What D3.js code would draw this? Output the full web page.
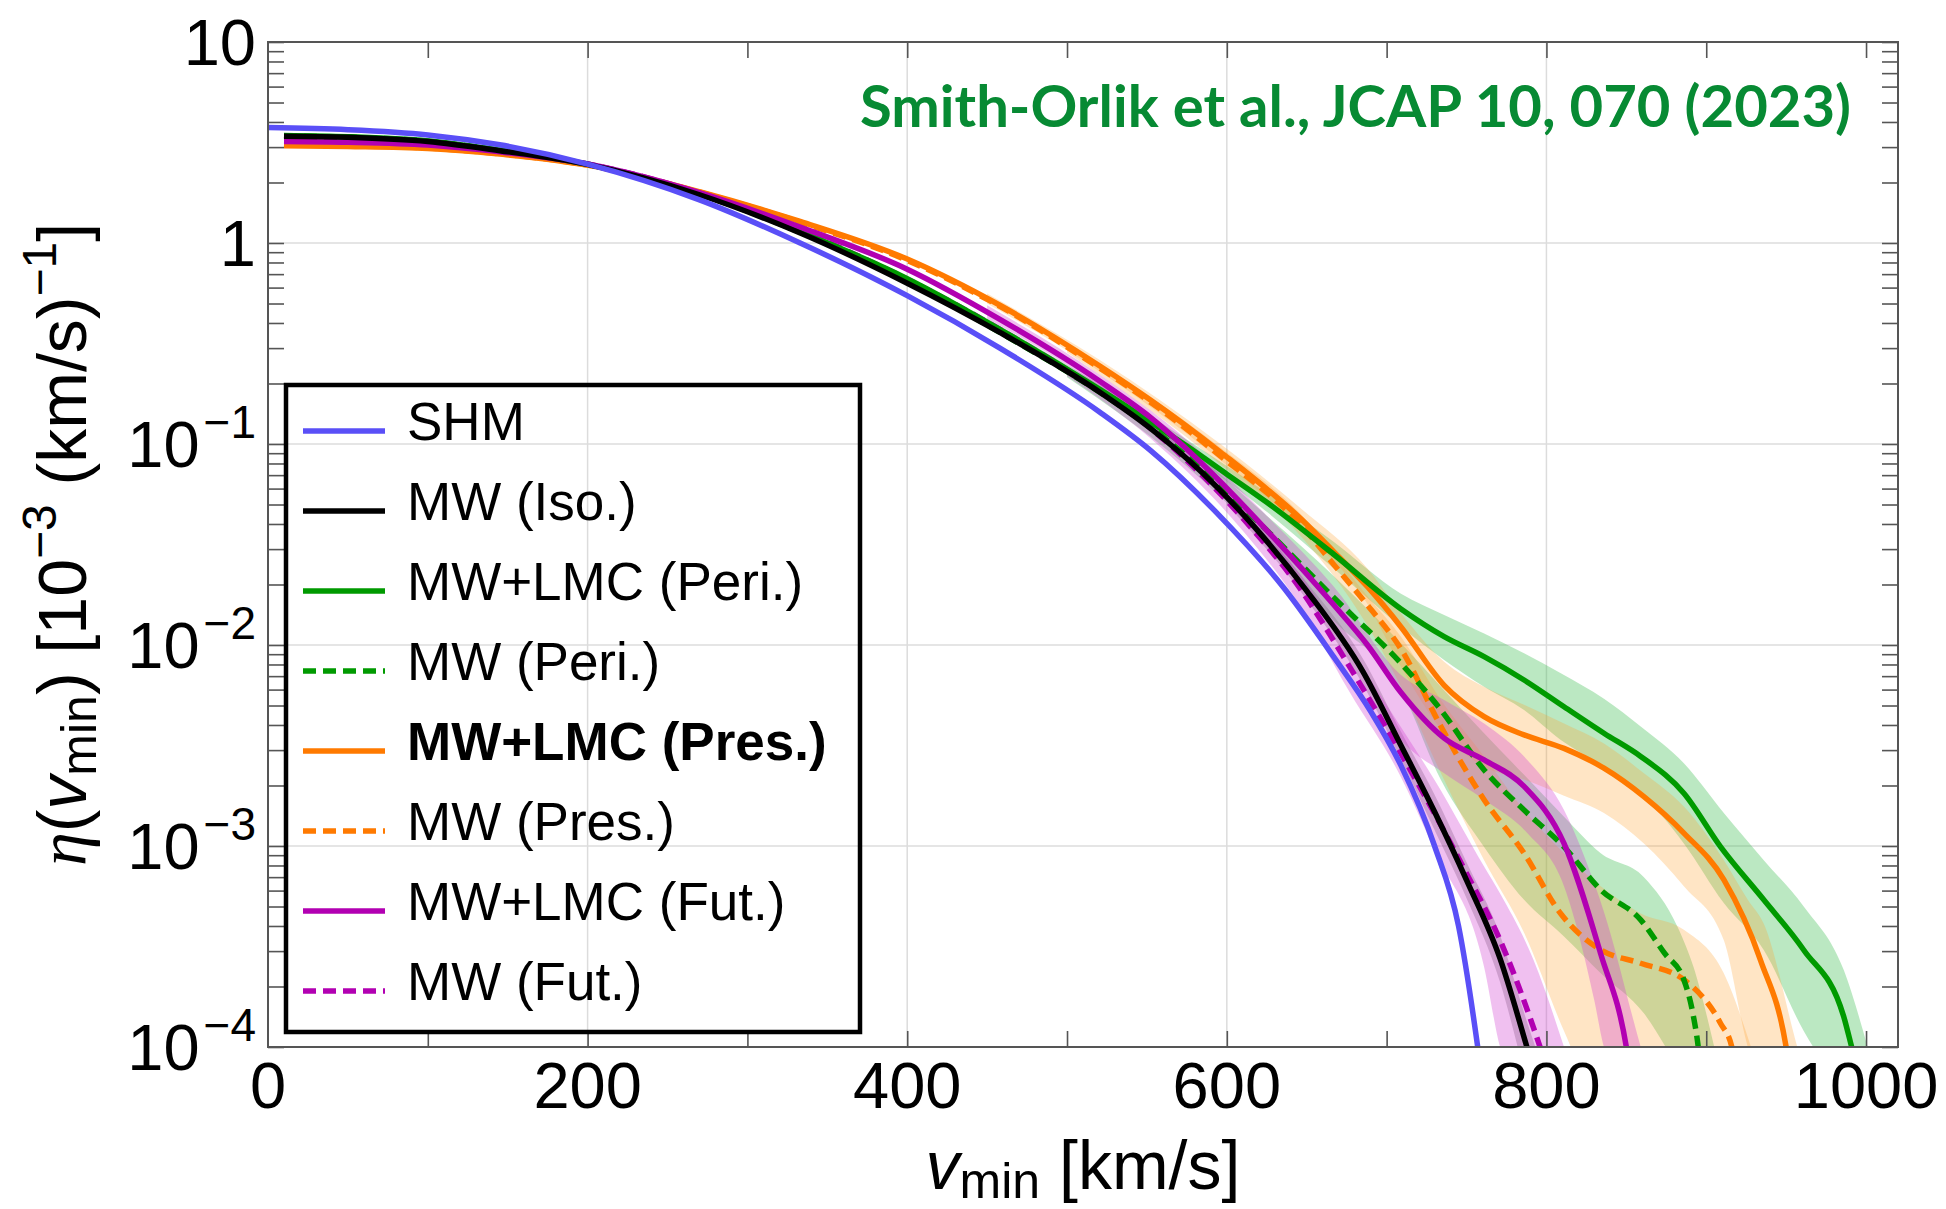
<!DOCTYPE html>
<html>
<head>
<meta charset="utf-8">
<script src="https://cdn.jsdelivr.net/npm/d3@7"></script>
<style>
    body { margin: 0; background: #fff; }
    svg { display: block; }
    text { font-family: "Liberation Sans", Arial, sans-serif; fill: #000; }
</style>
</head>
<body>
<div id="chart"></div>
<script>
// ---- data: v_min [km/s] and eta [10^-3 (km/s)^-1] ----

const shmV   = [0, 50, 100, 145, 200, 270, 333, 400, 458, 521, 552, 594, 636, 667, 690, 709, 730, 745, 757, 762];
const shmEta = [3.75, 3.66, 3.45, 3.08, 2.47, 1.64, 1.0, 0.547, 0.3, 0.1432, 0.0933, 0.0452, 0.0191, 0.0087, 0.00468, 0.00251, 0.001, 0.0004, 0.0001, 0.00005];

const isoV   = [10, 50, 100, 145, 200, 270, 333, 400, 458, 521, 552, 585, 617, 650, 685, 709, 730, 750, 771, 787, 795];
const isoEta = [3.4, 3.36, 3.2, 2.88, 2.46, 1.738, 1.122, 0.631, 0.359, 0.18, 0.12, 0.0716, 0.0389, 0.0186, 0.00741, 0.00316, 0.00148, 0.000676, 0.000275, 0.000105, 0.000063];
const isoBandV  = [600, 650, 685, 709, 730, 750, 771, 787, 795];
const isoBandLo = [0.05, 0.0168, 0.0064, 0.0027, 0.0012, 0.00055, 0.00021, 0.00007, 0.00004];
const isoBandHi = [0.057, 0.0205, 0.0086, 0.0037, 0.0018, 0.00083, 0.00036, 0.00014, 0.00009];

const periV   = [10, 50, 100, 145, 200, 270, 333, 400, 458, 521, 552, 575, 600, 625, 667, 709, 736, 761, 786, 811, 836, 859, 886, 909, 936, 961, 986, 991, 996];
const periEta = [3.43, 3.38, 3.22, 2.9, 2.46, 1.758, 1.14, 0.665, 0.372, 0.186, 0.129, 0.0977, 0.0708, 0.0513, 0.0282, 0.0151, 0.011, 0.00875, 0.0067, 0.00493, 0.00364, 0.00279, 0.00183, 0.00099, 0.00054, 0.000304, 0.000142, 0.0001, 0.00007];
const periBandV  = [450, 521, 575, 625, 667, 709, 736, 761, 786, 809, 836, 859, 886, 911, 936, 961, 986, 1001];
const periBandLo = [0.385, 0.176, 0.091, 0.046, 0.024, 0.0123, 0.00843, 0.0062, 0.00475, 0.00337, 0.00248, 0.00183, 0.00103, 0.00052, 0.000304, 0.00012, 0.00006, 0.00004];
const periBandHi = [0.42, 0.197, 0.105, 0.057, 0.0325, 0.018, 0.0141, 0.0114, 0.0091, 0.00723, 0.0054, 0.00393, 0.00258, 0.00146, 0.00085, 0.0005, 0.000242, 0.0001];

const mwPeriV   = [10, 50, 100, 145, 200, 270, 333, 400, 458, 521, 552, 583, 625, 667, 709, 734, 761, 786, 811, 834, 859, 874, 886, 892, 895, 897];
const mwPeriEta = [3.4, 3.36, 3.21, 2.89, 2.47, 1.75, 1.13, 0.646, 0.359, 0.18, 0.1216, 0.0767, 0.0372, 0.0172, 0.0081, 0.00475, 0.00239, 0.00151, 0.00099, 0.000605, 0.000429, 0.000292, 0.000216, 0.000142, 0.0001, 0.00007];
const mwPeriBandV  = [500, 583, 625, 667, 709, 734, 761, 786, 811, 834, 861, 882, 892, 905];
const mwPeriBandLo = [0.215, 0.068, 0.032, 0.0132, 0.006, 0.00213, 0.00099, 0.00054, 0.000355, 0.000233, 0.000147, 0.00008, 0.00006, 0.00004];
const mwPeriBandHi = [0.238, 0.086, 0.044, 0.022, 0.0102, 0.0062, 0.00364, 0.00226, 0.0014, 0.00092, 0.0007, 0.000397, 0.000251, 0.0001];

const presV   = [10, 50, 100, 145, 200, 270, 333, 400, 458, 521, 552, 596, 646, 670, 688, 709, 736, 761, 786, 811, 836, 861, 886, 911, 934, 950, 953];
const presEta = [3.05, 3.02, 2.95, 2.77, 2.44, 1.8, 1.28, 0.832, 0.49, 0.243, 0.166, 0.0912, 0.0427, 0.0275, 0.0195, 0.0123, 0.0063, 0.0044, 0.00357, 0.00306, 0.00244, 0.00176, 0.00116, 0.00068, 0.00027, 0.0001, 0.00007];
const presBandV  = [450, 521, 596, 646, 688, 709, 736, 761, 786, 811, 836, 861, 886, 911, 926, 936, 957, 965];
const presBandLo = [0.5, 0.228, 0.083, 0.038, 0.016, 0.0078, 0.00364, 0.00248, 0.00214, 0.00178, 0.00146, 0.00103, 0.00063, 0.00034, 0.0001, 0.00006, 0.00004, 0.00004];
const presBandHi = [0.56, 0.26, 0.1, 0.048, 0.024, 0.0144, 0.00826, 0.0062, 0.00504, 0.00407, 0.00324, 0.0023, 0.00157, 0.00085, 0.00054, 0.00041, 0.0001, 0.00006];

const mwPresV   = [10, 50, 100, 145, 200, 270, 333, 400, 458, 521, 552, 596, 646, 667, 688, 709, 734, 761, 786, 809, 834, 859, 886, 909, 916, 919];
const mwPresEta = [3.1, 3.06, 2.97, 2.78, 2.44, 1.79, 1.27, 0.82, 0.484, 0.237, 0.162, 0.0871, 0.0398, 0.0251, 0.0158, 0.00955, 0.00393, 0.0017, 0.00092, 0.00046, 0.000304, 0.000261, 0.000216, 0.000131, 0.0001, 0.00007];
const mwPresBandV  = [500, 596, 646, 688, 709, 734, 761, 786, 811, 834, 859, 886, 911, 928];
const mwPresBandLo = [0.285, 0.079, 0.035, 0.0125, 0.0062, 0.0023, 0.00085, 0.00037, 0.00012, 0.00005, 0.00004, 0.00004, 0.00004, 0.00004];
const mwPresBandHi = [0.315, 0.096, 0.045, 0.0175, 0.011, 0.00533, 0.00279, 0.00151, 0.00092, 0.00063, 0.000462, 0.000383, 0.000233, 0.0001];

const futV   = [10, 50, 100, 145, 200, 270, 333, 400, 458, 521, 552, 590, 625, 667, 688, 709, 736, 761, 786, 811, 834, 850, 853];
const futEta = [3.2, 3.17, 3.07, 2.84, 2.47, 1.78, 1.2, 0.741, 0.417, 0.204, 0.136, 0.0724, 0.0372, 0.0158, 0.01, 0.0058, 0.00344, 0.00268, 0.00198, 0.00103, 0.00029, 0.0001, 0.00007];
const futBandV  = [450, 521, 562, 625, 667, 709, 736, 761, 788, 811, 830, 836, 859, 870];
const futBandLo = [0.42, 0.19, 0.104, 0.031, 0.0128, 0.00337, 0.0023, 0.0017, 0.00116, 0.00063, 0.00017, 0.0001, 0.00005, 0.00005];
const futBandHi = [0.49, 0.22, 0.128, 0.044, 0.0195, 0.0071, 0.00533, 0.00407, 0.00268, 0.00151, 0.00065, 0.00047, 0.0001, 0.00005];

const mwFutV   = [10, 50, 100, 145, 200, 270, 333, 400, 458, 521, 552, 610, 644, 677, 709, 730, 750, 771, 796, 800];
const mwFutEta = [3.22, 3.19, 3.08, 2.85, 2.47, 1.77, 1.15, 0.661, 0.372, 0.182, 0.12, 0.0427, 0.02, 0.00776, 0.00288, 0.00145, 0.00073, 0.00034, 0.0001, 0.00008];
const mwFutBandV  = [500, 552, 610, 644, 677, 709, 730, 761, 771, 792, 811];
const mwFutBandLo = [0.218, 0.107, 0.037, 0.0165, 0.0058, 0.0022, 0.00095, 0.00025, 0.0001, 0.00005, 0.00005];
const mwFutBandHi = [0.244, 0.133, 0.049, 0.0235, 0.0096, 0.0039, 0.00213, 0.00079, 0.00058, 0.00027, 0.0001];

// axis ticks and labels
const xTickValues = [100, 200, 300, 400, 500, 600, 700, 800, 900, 1000];
const xTickLabels = [0, 200, 400, 600, 800, 1000];
const xGridValues = [200, 400, 600, 800];
const yDecades    = [1e-4, 1e-3, 1e-2, 1e-1, 1, 10];
const yLabelBase  = ['10', '10', '10', '10', '1', '10'];
const yLabelExp   = ['\u22124', '\u22123', '\u22122', '\u22121', '', ''];
const yGridValues = [1e-3, 1e-2, 1e-1, 1];

const CITATION = 'Smith-Orlik et al., JCAP 10, 070 (2023)';

// ---- layout ----
const WIDTH = 1946;
const HEIGHT = 1209;
const PLOT = {left: 268, right: 1898, top: 42, bottom: 1047};

const FRAME_COLOR = '#555';
const GRID_COLOR = '#dcdcdc';
const TICK_LEN = 16;
const LINE_W = 5.5;

const BLUE = '#5a4ff7';
const GREEN = '#009a00';
const ORANGE = '#ff7a00';
const MAGENTA = '#b200b2';

const zip = (v, a, b) => v.map((d, i) => ({v: d, lo: a[i], hi: b ? b[i] : a[i]}));

const series = [
    {name: 'SHM',            pts: zip(shmV, shmEta),       color: BLUE,    dash: null},
    {name: 'MW (Iso.)',      pts: zip(isoV, isoEta),       color: '#000',  dash: null,
        band: zip(isoBandV, isoBandLo, isoBandHi), bandFill: '#000', bandOpacity: 0.2},
    {name: 'MW+LMC (Peri.)', pts: zip(periV, periEta),     color: GREEN,   dash: null,
        band: zip(periBandV, periBandLo, periBandHi), bandFill: '#3cbe50', bandOpacity: 0.35},
    {name: 'MW (Peri.)',     pts: zip(mwPeriV, mwPeriEta), color: GREEN,   dash: '13,7',
        band: zip(mwPeriBandV, mwPeriBandLo, mwPeriBandHi), bandFill: '#3cbe50', bandOpacity: 0.35},
    {name: 'MW+LMC (Pres.)', pts: zip(presV, presEta),     color: ORANGE,  dash: null, bold: true,
        band: zip(presBandV, presBandLo, presBandHi), bandFill: '#ffa030', bandOpacity: 0.28},
    {name: 'MW (Pres.)',     pts: zip(mwPresV, mwPresEta), color: ORANGE,  dash: '13,7',
        band: zip(mwPresBandV, mwPresBandLo, mwPresBandHi), bandFill: '#ffa030', bandOpacity: 0.28},
    {name: 'MW+LMC (Fut.)',  pts: zip(futV, futEta),       color: MAGENTA, dash: null,
        band: zip(futBandV, futBandLo, futBandHi), bandFill: '#d040d0', bandOpacity: 0.33},
    {name: 'MW (Fut.)',      pts: zip(mwFutV, mwFutEta),   color: MAGENTA, dash: '13,7',
        band: zip(mwFutBandV, mwFutBandLo, mwFutBandHi), bandFill: '#d040d0', bandOpacity: 0.33}
];

// back-to-front order of the curves
const lineOrder = ['MW (Pres.)', 'MW (Peri.)', 'MW (Fut.)', 'MW+LMC (Pres.)', 'MW+LMC (Peri.)',
                   'MW+LMC (Fut.)', 'MW (Iso.)', 'SHM'];

const x = d3.scaleLinear().domain([0, 1020]).range([PLOT.left, PLOT.right]);
const y = d3.scaleLog().domain([1e-4, 10]).range([PLOT.bottom, PLOT.top]);

const svg = d3.select('#chart')
    .append('svg')
    .attr('width', WIDTH)
    .attr('height', HEIGHT);

svg.append('defs').append('clipPath')
    .attr('id', 'plot-clip')
    .append('rect')
    .attr('x', PLOT.left)
    .attr('y', PLOT.top)
    .attr('width', PLOT.right - PLOT.left)
    .attr('height', PLOT.bottom - PLOT.top);

// grid
const grid = svg.append('g').attr('stroke', GRID_COLOR).attr('stroke-width', 1.5);
grid.selectAll('line.gx').data(xGridValues).join('line')
    .attr('x1', d => x(d)).attr('x2', d => x(d))
    .attr('y1', PLOT.top).attr('y2', PLOT.bottom);
grid.selectAll('line.gy').data(yGridValues).join('line')
    .attr('y1', d => y(d)).attr('y2', d => y(d))
    .attr('x1', PLOT.left).attr('x2', PLOT.right);

// bands then lines
const plot = svg.append('g').attr('clip-path', 'url(#plot-clip)');

const area = d3.area()
    .x(d => x(d.v))
    .y0(d => y(d.lo))
    .y1(d => y(d.hi))
    .curve(d3.curveMonotoneX);

const line = d3.line()
    .x(d => x(d.v))
    .y(d => y(d.lo))
    .curve(d3.curveMonotoneX);

plot.selectAll('path.band')
    .data(series.filter(s => s.band))
    .join('path')
    .attr('class', 'band')
    .attr('d', s => area(s.band))
    .attr('fill', s => s.bandFill)
    .attr('fill-opacity', s => s.bandOpacity)
    .attr('stroke', 'none');

const byName = new Map(series.map(s => [s.name, s]));
plot.selectAll('path.curve')
    .data(lineOrder.map(n => byName.get(n)))
    .join('path')
    .attr('class', 'curve')
    .attr('d', s => line(s.pts))
    .attr('fill', 'none')
    .attr('stroke', s => s.color)
    .attr('stroke-width', LINE_W)
    .attr('stroke-dasharray', s => s.dash)
    .attr('stroke-linejoin', 'round');

// minor log ticks for the side axes
const yMinor = [];
yDecades.slice(0, -1).forEach(d => {
    for (let k = 1; k <= 9; k++) yMinor.push(d * k);
});
yMinor.push(10);

function styleAxis(g) {
    g.select('.domain').remove();
    g.selectAll('.tick line').attr('stroke', FRAME_COLOR).attr('stroke-width', 1.6);
}

svg.append('g')
    .attr('transform', `translate(0,${PLOT.bottom})`)
    .call(d3.axisBottom(x).tickValues(xTickValues).tickSize(-TICK_LEN).tickFormat(''))
    .call(styleAxis);
svg.append('g')
    .attr('transform', `translate(0,${PLOT.top})`)
    .call(d3.axisTop(x).tickValues(xTickValues).tickSize(-TICK_LEN).tickFormat(''))
    .call(styleAxis);
svg.append('g')
    .attr('transform', `translate(${PLOT.left},0)`)
    .call(d3.axisLeft(y).tickValues(yMinor).tickSize(-TICK_LEN).tickFormat(''))
    .call(styleAxis);
svg.append('g')
    .attr('transform', `translate(${PLOT.right},0)`)
    .call(d3.axisRight(y).tickValues(yMinor).tickSize(-TICK_LEN).tickFormat(''))
    .call(styleAxis);

// frame
svg.append('rect')
    .attr('x', PLOT.left)
    .attr('y', PLOT.top)
    .attr('width', PLOT.right - PLOT.left)
    .attr('height', PLOT.bottom - PLOT.top)
    .attr('fill', 'none')
    .attr('stroke', FRAME_COLOR)
    .attr('stroke-width', 2);

// tick labels
svg.append('g').selectAll('text')
    .data(xTickLabels)
    .join('text')
    .attr('x', d => x(d))
    .attr('y', PLOT.bottom + 61)
    .attr('text-anchor', 'middle')
    .style('font-size', '65px')
    .text(d => d);

const yLab = svg.append('g').selectAll('text')
    .data(yDecades)
    .join('text')
    .attr('x', PLOT.left - 12)
    .attr('y', d => y(d) + 23)
    .attr('text-anchor', 'end')
    .style('font-size', '65px');
yLab.append('tspan').text((d, i) => yLabelBase[i]);
yLab.append('tspan')
    .attr('dx', 4)
    .attr('dy', -29)
    .style('font-size', '46px')
    .text((d, i) => yLabelExp[i]);

// axis titles
const xTitle = svg.append('text')
    .attr('x', (PLOT.left + PLOT.right) / 2)
    .attr('y', 1189)
    .attr('text-anchor', 'middle')
    .style('font-size', '68px');
xTitle.append('tspan').style('font-style', 'italic').text('v');
xTitle.append('tspan').attr('dy', 9).style('font-size', '50px').text('min');
xTitle.append('tspan').attr('dy', -9).text(' [km/s]');

const yTitle = svg.append('text')
    .attr('transform', `translate(86,${(PLOT.top + PLOT.bottom) / 2}) rotate(-90)`)
    .attr('text-anchor', 'middle')
    .style('font-size', '68px');
yTitle.append('tspan')
    .style('font-family', '"Liberation Serif", "DejaVu Serif", serif')
    .style('font-style', 'italic')
    .text('\u03b7');
yTitle.append('tspan').text('(');
yTitle.append('tspan').style('font-style', 'italic').text('v');
yTitle.append('tspan').attr('dy', 10).style('font-size', '50px').text('min');
yTitle.append('tspan').attr('dy', -10).text(') [10');
yTitle.append('tspan').attr('dy', -30).style('font-size', '48px').text('\u22123');
yTitle.append('tspan').attr('dy', 30).text(' (km/s)');
yTitle.append('tspan').attr('dy', -30).style('font-size', '48px').text('\u22121');
yTitle.append('tspan').attr('dy', 30).text(']');

// citation
svg.append('text')
    .attr('x', 1851)
    .attr('y', 127)
    .attr('text-anchor', 'end')
    .attr('textLength', 991)
    .attr('lengthAdjust', 'spacingAndGlyphs')
    .style('font-family', 'Lato, "Open Sans", sans-serif')
    .style('font-weight', 700)
    .style('font-size', '58px')
    .style('fill', '#078a33')
    .text(CITATION);

// legend
const LEG = {left: 286, top: 385, right: 860, bottom: 1032, firstBase: 440, step: 80};
const legend = svg.append('g');
legend.append('rect')
    .attr('x', LEG.left)
    .attr('y', LEG.top)
    .attr('width', LEG.right - LEG.left)
    .attr('height', LEG.bottom - LEG.top)
    .attr('fill', 'none')
    .attr('stroke', '#000')
    .attr('stroke-width', 4.5);

const rows = legend.selectAll('g.row')
    .data(series)
    .join('g')
    .attr('class', 'row')
    .attr('transform', (s, i) => `translate(0,${LEG.firstBase + i * LEG.step})`);
rows.append('line')
    .attr('x1', 303).attr('x2', 385)
    .attr('y1', -9).attr('y2', -9)
    .attr('stroke', s => s.color)
    .attr('stroke-width', 5.5)
    .attr('stroke-dasharray', s => s.dash);
rows.append('text')
    .attr('x', 407)
    .attr('y', 0)
    .style('font-size', '53px')
    .style('font-weight', s => s.bold ? 700 : 400)
    .text(s => s.name);
</script>
</body>
</html>
